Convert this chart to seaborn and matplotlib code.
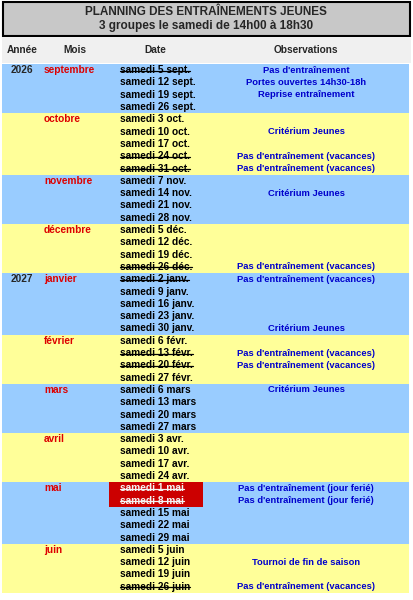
import matplotlib
matplotlib.use("Agg")
import matplotlib.pyplot as plt
import seaborn as sns
import pandas as pd

sns.set_theme(style="white")
plt.rcParams['font.family'] = ['Liberation Sans', 'DejaVu Sans']

title1 = "PLANNING DES ENTRAÎNEMENTS JEUNES"
title2 = "3 groupes le samedi de 14h00 à 18h30"
headers = ["Année", "Mois", "Date", "Observations"]

months = ["septembre", "octobre", "novembre", "décembre", "janvier", "février",
          "mars", "avril", "mai", "juin"]
years = {"septembre": "2026", "janvier": "2027"}
dates = [
    ["samedi 5 sept.", "samedi 12 sept.", "samedi 19 sept.", "samedi 26 sept."],
    ["samedi 3 oct.", "samedi 10 oct.", "samedi 17 oct.", "samedi 24 oct.", "samedi 31 oct."],
    ["samedi 7 nov.", "samedi 14 nov.", "samedi 21 nov.", "samedi 28 nov."],
    ["samedi 5 déc.", "samedi 12 déc.", "samedi 19 déc.", "samedi 26 déc."],
    ["samedi 2 janv.", "samedi 9 janv.", "samedi 16 janv.", "samedi 23 janv.", "samedi 30 janv."],
    ["samedi 6 févr.", "samedi 13 févr.", "samedi 20 févr.", "samedi 27 févr."],
    ["samedi 6 mars", "samedi 13 mars", "samedi 20 mars", "samedi 27 mars"],
    ["samedi 3 avr.", "samedi 10 avr.", "samedi 17 avr.", "samedi 24 avr."],
    ["samedi 1 mai", "samedi 8 mai", "samedi 15 mai", "samedi 22 mai", "samedi 29 mai"],
    ["samedi 5 juin", "samedi 12 juin", "samedi 19 juin", "samedi 26 juin"],
]
vac = "Pas d'entraînement (vacances)"
observations = {
    "samedi 5 sept.": "Pas d'entraînement",
    "samedi 12 sept.": "Portes ouvertes 14h30-18h",
    "samedi 19 sept.": "Reprise entraînement",
    "samedi 10 oct.": "Critérium Jeunes",
    "samedi 24 oct.": vac, "samedi 31 oct.": vac,
    "samedi 14 nov.": "Critérium Jeunes",
    "samedi 26 déc.": vac, "samedi 2 janv.": vac,
    "samedi 30 janv.": "Critérium Jeunes",
    "samedi 13 févr.": vac, "samedi 20 févr.": vac,
    "samedi 6 mars": "Critérium Jeunes",
    "samedi 1 mai": "Pas d'entraînement (jour ferié)",
    "samedi 8 mai": "Pas d'entraînement (jour ferié)",
    "samedi 12 juin": "Tournoi de fin de saison",
    "samedi 26 juin": vac,
}
cancelled = ["samedi 5 sept.", "samedi 24 oct.", "samedi 31 oct.", "samedi 26 déc.",
             "samedi 2 janv.", "samedi 13 févr.", "samedi 20 févr.", "samedi 1 mai",
             "samedi 8 mai", "samedi 26 juin"]
holidays = ["samedi 1 mai", "samedi 8 mai"]

rows = []
for m, ds in zip(months, dates):
    for i, d in enumerate(ds):
        rows.append(dict(month=m, date=d, is_first=(i == 0)))
df = pd.DataFrame(rows)
df["row"] = range(len(df))

W, H = 413, 600
fig = plt.figure(figsize=(W / 100, H / 100), dpi=100)
ax = fig.add_axes([0, 0, 1, 1])
ax.set_xlim(0, W)
ax.set_ylim(H, 0)
ax.axis("off")

top, rh = 64.0, 12.3
fs = 7.3
blue, yellow = "#99ccff", "#ffff99"

ax.add_patch(plt.Rectangle((3, 2), 407, 34, facecolor="#c8c8c8", edgecolor="black", lw=1.5))
ax.text(206, 12, title1, ha="center", va="center", fontsize=8.5, weight="bold")
ax.text(206, 26, title2, ha="center", va="center", fontsize=8.5, weight="bold")
ax.add_patch(plt.Rectangle((2, 37), 409, 26, facecolor="#f0f0f0", edgecolor="none"))
for hx, h in zip([22, 75, 155, 306], headers):
    ax.text(hx, 50, h, ha="center", va="center", fontsize=fs, weight="bold")

for k, m in enumerate(months):
    sub = df[df.month == m]
    y0 = top + sub.row.min() * rh
    ax.barh(y0 + len(sub) * rh / 2, 407, height=len(sub) * rh, left=2,
            color=blue if k % 2 == 0 else yellow, edgecolor="none")

fig.canvas.draw()
rend = fig.canvas.get_renderer()
for _, r in df.iterrows():
    yc = top + (r["row"] + 0.5) * rh
    if r["is_first"]:
        ax.text(44, yc, r["month"], ha="left", va="center", fontsize=fs, weight="bold", color="#dd0000")
        if r["month"] in years:
            ax.text(22, yc, years[r["month"]], ha="center", va="center", fontsize=fs, weight="bold")
    col = "black"
    d = r["date"]
    if d in holidays:
        ax.add_patch(plt.Rectangle((109, yc - rh / 2), 94, rh, facecolor="#cc0000", edgecolor="none"))
        col = "#f4f4f4"
    t = ax.text(120, yc, d, ha="left", va="center", fontsize=fs, weight="bold", color=col)
    if d in cancelled:
        bb = t.get_window_extent(rend)
        ax.plot([120, 120 + bb.width], [yc + 0.5, yc + 0.5], color=col, lw=0.9)
    if d in observations:
        ax.text(306, yc, observations[d], ha="center", va="center", fontsize=fs * 0.93,
                weight="bold", color="#0000cc")

fig.savefig("out.png", dpi=100)
